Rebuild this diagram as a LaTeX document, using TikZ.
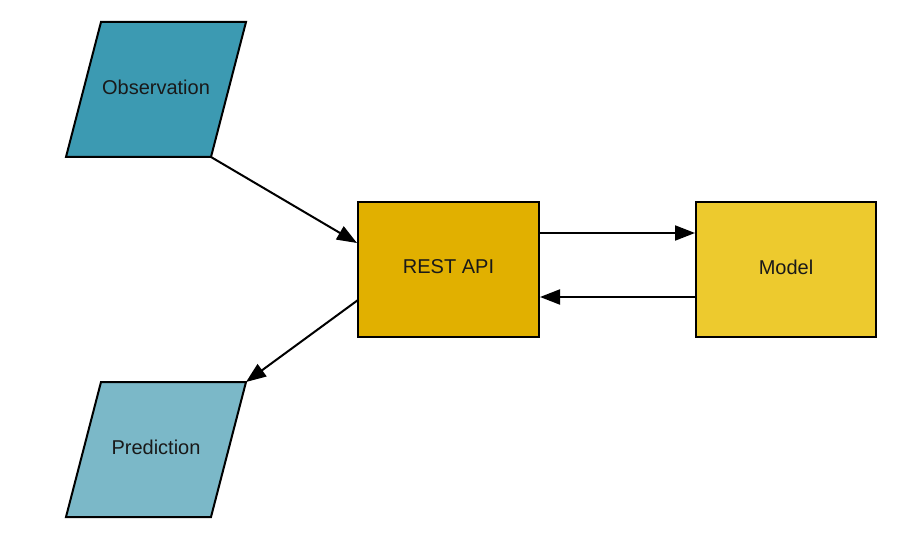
\documentclass[tikz,border=0pt]{standalone}
\usepackage{fontspec}
\setmainfont{Liberation Sans}
\usetikzlibrary{arrows.meta,calc}
\definecolor{obscol}{HTML}{3C9AB2}
\definecolor{predcol}{HTML}{7BB8C8}
\definecolor{restcol}{HTML}{E1B000}
\definecolor{modelcol}{HTML}{EDCA2E}
\tikzset{
  shapeline/.style={draw=black, line width=2pt, line join=miter},
  lbl/.style={font=\fontsize{20}{24}\selectfont, text=black!90},
  conn/.style={draw=black, line width=2pt, -{Triangle[length=20pt,width=15pt]}},
}
\begin{document}
\begin{tikzpicture}[x=1pt,y=-1pt]
\useasboundingbox (0,0) rectangle (909,540);
% Observation
\draw[shapeline, fill=obscol] (101,22) -- (246,22) -- (211,157) -- (66,157) -- cycle;
\node[lbl] (obs) at (156,87) {Observation};
\coordinate (obsc) at (211,157);
% Prediction
\draw[shapeline, fill=predcol] (101,382) -- (246,382) -- (211,517) -- (66,517) -- cycle;
\node[lbl] (pred) at (156,447) {Prediction};
\coordinate (predc) at (246,382);
% REST API
\draw[shapeline, fill=restcol] (358,202) rectangle (539,337);
\node[lbl] (rest) at (448.5,267) {REST API};
% Model
\draw[shapeline, fill=modelcol] (696,202) rectangle (876,337);
\node[lbl] (model) at (786,267) {Model};
\coordinate (restA) at (357,243);
\coordinate (restB) at (358,300);
\coordinate (restC) at (539,233);
\coordinate (restD) at (540,297);
\coordinate (modA) at (695,233);
\coordinate (modB) at (696,297);
% connectors
\draw[conn] (obsc) -- (restA);
\draw[conn] (restB) -- (predc);
\draw[conn] (restC) -- (modA);
\draw[conn] (modB) -- (restD);
\end{tikzpicture}
\end{document}
